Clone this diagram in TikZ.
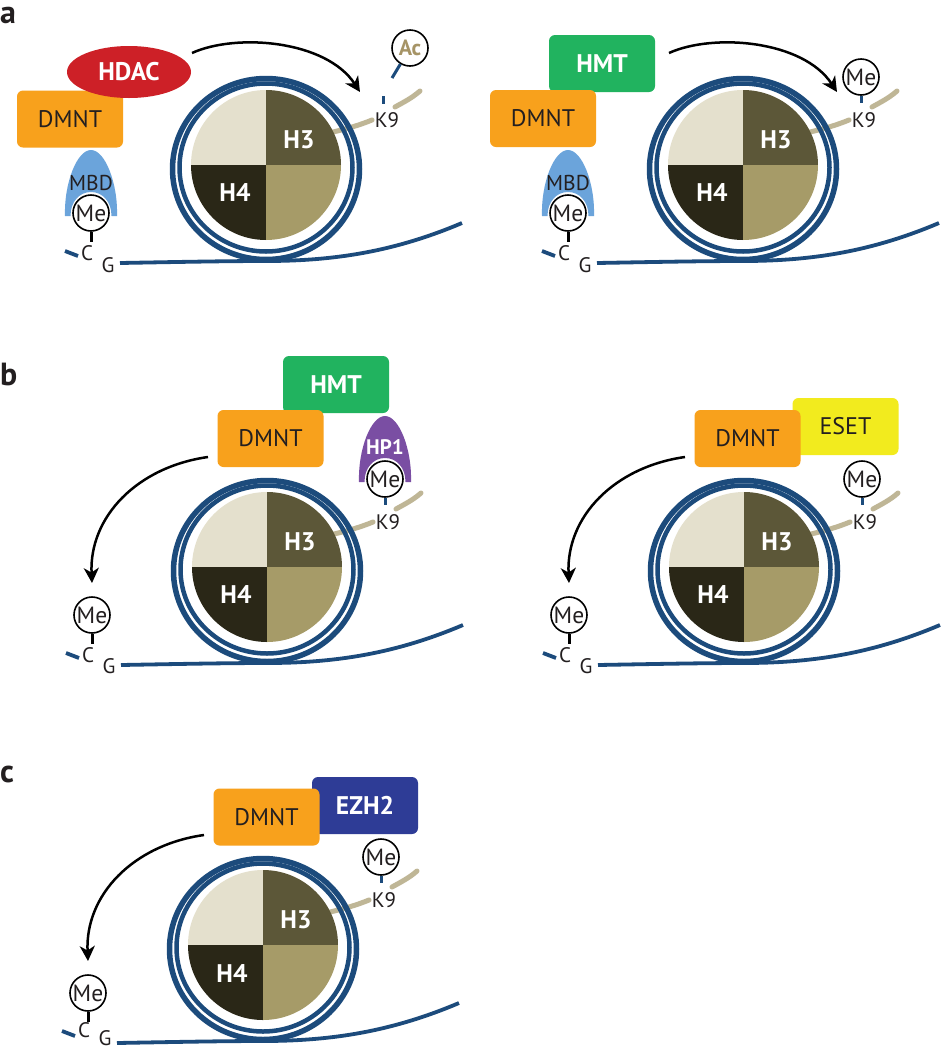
\documentclass[tikz,border=0pt]{standalone}
\usepackage{fontspec}
\setmainfont{PT Sans}
\usetikzlibrary{arrows.meta,shapes.geometric}
\definecolor{dna}{HTML}{1C4B7C}
\definecolor{hA}{HTML}{E4E0CD}
\definecolor{hB}{HTML}{5C5738}
\definecolor{hC}{HTML}{2A2717}
\definecolor{hD}{HTML}{A69B68}
\definecolor{tail}{HTML}{BFB696}
\definecolor{dmnt}{HTML}{F8A11C}
\definecolor{hmt}{HTML}{21B35F}
\definecolor{hdac}{HTML}{CD2027}
\definecolor{eset}{HTML}{F2EB1E}
\definecolor{ezh}{HTML}{2E3C96}
\definecolor{hpone}{HTML}{7A4EA3}
\definecolor{mbd}{HTML}{6BA4DB}
\definecolor{txt}{HTML}{231F20}
\definecolor{actxt}{HTML}{A69466}

\newcommand{\nucl}[3]{%
  \draw[tailline] (67,-33) .. controls (80,-36) and (94,-40) .. (106,-45);
  \draw[tailline] (129,-58) .. controls (138,-63) and (146,-67) .. (154,-74);
  \begin{scope}
    \clip (0,0) circle[radius=75pt];
    \fill[hA] (-76,-76) rectangle (0,0);
    \fill[hB] (0,-76) rectangle (76,0);
    \fill[hC] (-76,0) rectangle (0,76);
    \fill[hD] (0,0) rectangle (76,76);
  \end{scope}
  \node[hist] (#1-H3) at (33,-25) {H3};
  \node[hist] (#1-H4) at (-31,28) {H4};
  \draw[dnaline, line width=5.5pt] (0,4) ellipse[x radius=93.5pt, y radius=90.5pt];
  \draw[dnaline, line width=4.5pt] (0,2.5) ellipse[x radius=86.5pt, y radius=84pt];
  \draw[dnaline] (-146,98) .. controls (-90,97) and (-40,96) .. (0,96) .. controls (70,96) and (130,86) .. (196,58);
  \draw[dnaline] (-201,86) -- (-188,91);
  \node[lbl] (#1-K9) at (121,-45) {K9};
  \node[lbl] (#1-C) at (-179,#2) {C};
  \node[lbl] (#1-G) at (-158,#3) {G};
}
\newcommand{\cpgme}[1]{%
  \node[mecirc] (#1-cme) at (-175,48) {Me};
  \draw[blackstick] (#1-cme.south) -- (-175,77);
}
\newcommand{\kme}[1]{%
  \node[mecirc] (#1-kme) at (118,-88) {Me};
  \draw[bluestick] (#1-kme.south) -- (118,-62);
}
\newcommand{\bellshape}[1]{%
  \fill[#1] (-26,3) .. controls (-27,-30) and (-14,-63) .. (0,-63) .. controls (14,-63) and (27,-30) .. (26,3) -- (20.5,3) .. controls (20.5,-11.5) and (11.5,-21) .. (0,-21) .. controls (-11.5,-21) and (-20.5,-11.5) .. (-20.5,3) -- cycle;
}

\begin{document}
\begin{tikzpicture}[x=1pt,y=-1pt,
  mecirc/.style={circle, draw=black, line width=1.6pt, fill=white, minimum size=36pt, inner sep=0pt, font=\fontsize{23.5}{23.5}\selectfont, text=txt},
  lbl/.style={inner sep=0pt, font=\fontsize{21}{21}\selectfont, text=txt},
  hist/.style={inner sep=0pt, font=\bfseries\fontsize{25.5}{25.5}\selectfont, text=white},
  boxnode/.style={rounded corners=6pt, inner sep=0pt, minimum width=106pt, minimum height=57pt, font=\fontsize{24}{24}\selectfont},
  boldbox/.style={boxnode, text=white, font=\bfseries\fontsize{25.5}{25.5}\selectfont},
  dnaline/.style={draw=dna, line width=3.8pt},
  tailline/.style={draw=tail, line width=5pt, line cap=round},
  bluestick/.style={draw=dna, line width=3pt},
  blackstick/.style={draw=black, line width=3pt},
  arrowline/.style={draw=black, line width=2.5pt, -{Stealth[length=15pt,width=15pt,inset=4.5pt]}},
  panel/.style={anchor=base west, inner sep=0pt, font=\bfseries\fontsize{32}{32}\selectfont, text=txt}
]
\fill[white] (0,0) rectangle (942,1050);
\useasboundingbox (0,0) rectangle (942,1050);

\node[panel] (la) at (0,23) {a};
\node[panel] (lb) at (0,385) {b};
\node[panel] (lc) at (0,782) {c};

% ---------- a left
\begin{scope}[shift={(266,165)}]
  \nucl{aL}{88}{100}
  \node[boxnode, fill=dmnt, text=txt] (aL-dmnt) at (-196,-46) {DMNT};
  \node[ellipse, fill=hdac, minimum width=124pt, minimum height=52pt, inner sep=0pt, text=white, font=\bfseries\fontsize{25.5}{25.5}\selectfont] (aL-hdac) at (-137,-93) {HDAC};
  \begin{scope}[shift={(-175,48)}]\bellshape{mbd}\end{scope}
  \node[lbl, font=\fontsize{21.5}{21.5}\selectfont] (aL-mbd) at (-175,18) {MBD};
  \cpgme{aL}
  \node[mecirc, text=actxt, font=\bfseries\fontsize{22}{22}\selectfont] (aL-ac) at (144,-117) {Ac};
  \coordinate (aL-acend) at (126,-87);
  \draw[bluestick] (aL-ac) -- (aL-acend);
  \draw[bluestick] (117,-69) -- (117,-61);
  \coordinate (aL-as) at (-74,-112);
  \coordinate (aL-ae) at (94,-73);
  \draw[arrowline] (aL-as) .. controls (-30,-132) and (60,-125) .. (aL-ae);
\end{scope}

% ---------- a right
\begin{scope}[shift={(743,165)}]
  \nucl{aR}{88}{100}
  \node[boldbox, fill=hmt] (aR-hmt) at (-141,-101.5) {HMT};
  \node[boxnode, fill=dmnt, text=txt] (aR-dmnt) at (-200,-46.5) {DMNT};
  \begin{scope}[shift={(-175,48)}]\bellshape{mbd}\end{scope}
  \node[lbl, font=\fontsize{21.5}{21.5}\selectfont] (aR-mbd) at (-175,18) {MBD};
  \cpgme{aR}
  \kme{aR}
  \coordinate (aR-as) at (-74,-112);
  \coordinate (aR-ae) at (94,-73);
  \draw[arrowline] (aR-as) .. controls (-30,-132) and (60,-125) .. (aR-ae);
\end{scope}

% ---------- b left
\begin{scope}[shift={(267,567)}]
  \nucl{bL}{88}{99}
  \node[boldbox, fill=hmt] (bL-hmt) at (69,-182.5) {HMT};
  \node[boxnode, fill=dmnt, text=txt] (bL-dmnt) at (3.5,-128.5) {DMNT};
  \begin{scope}[shift={(118,-88)}]\bellshape{hpone}\end{scope}
  \node[lbl, text=white, font=\bfseries\fontsize{21}{21}\selectfont] (bL-hp1) at (118,-120) {HP1};
  \kme{bL}
  \cpgme{bL}
  \coordinate (bL-as) at (-59,-110);
  \coordinate (bL-ae) at (-175,16);
  \draw[arrowline] (bL-as) .. controls (-130,-100) and (-178,-50) .. (bL-ae);
\end{scope}

% ---------- b right
\begin{scope}[shift={(744,567)}]
  \nucl{bR}{88}{99}
  \node[boxnode, fill=eset, text=txt] (bR-eset) at (101.5,-140.5) {ESET};
  \node[boxnode, fill=dmnt, text=txt] (bR-dmnt) at (3.5,-128.5) {DMNT};
  \kme{bR}
  \cpgme{bR}
  \coordinate (bR-as) at (-59,-110);
  \coordinate (bR-ae) at (-175,16);
  \draw[arrowline] (bR-as) .. controls (-130,-100) and (-178,-50) .. (bR-ae);
\end{scope}

% ---------- c
\begin{scope}[shift={(263,945)}]
  \nucl{cc}{85}{93}
  \node[boldbox, fill=ezh] (cc-ezh) at (102,-139.5) {EZH2};
  \node[boxnode, fill=dmnt, text=txt] (cc-dmnt) at (3.5,-128) {DMNT};
  \kme{cc}
  \cpgme{cc}
  \coordinate (cc-as) at (-59,-110);
  \coordinate (cc-ae) at (-175,16);
  \draw[arrowline] (cc-as) .. controls (-130,-100) and (-178,-50) .. (cc-ae);
\end{scope}
\end{tikzpicture}
\end{document}
